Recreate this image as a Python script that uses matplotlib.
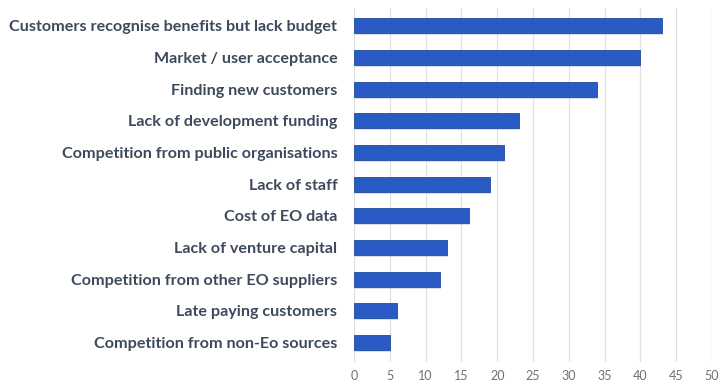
import matplotlib.pyplot as plt
from matplotlib.patches import Rectangle

# barriers to growth, listed top to bottom
barriers = [
    "Customers recognise benefits but lack budget",
    "Market / user acceptance",
    "Finding new customers",
    "Lack of development funding",
    "Competition from public organisations",
    "Lack of staff",
    "Cost of EO data",
    "Lack of venture capital",
    "Competition from other EO suppliers",
    "Late paying customers",
    "Competition from non-Eo sources",
]
counts = [43, 40, 34, 23, 21, 19, 16, 13, 12, 6, 5]
xticks = [0, 5, 10, 15, 20, 25, 30, 35, 40, 45, 50]

bar_color = "#2A5BC5"
label_color = "#3E4A5C"

fig = plt.figure(figsize=(7.19, 3.81), dpi=100)
ax = fig.add_axes([0.4923, 0.050, 0.4979, 0.929])

pos = list(range(len(barriers)))
height = 0.47

# soft drop shadow under each bar
for y, v in zip(pos, counts):
    ax.add_patch(Rectangle((0.15, y - height / 2 + 0.07), v, height,
                           color="#9aa3b5", alpha=0.35, lw=0, zorder=2))

ax.barh(pos, counts, height=height, color=bar_color,
        edgecolor="#1E4AA6", linewidth=0.6, zorder=3)

ax.set_xlim(0, 50)
ax.set_ylim(10.616, -0.562)
ax.set_xticks(xticks)
ax.set_yticks(pos)
ax.set_yticklabels(barriers, fontfamily="Lato", fontweight="bold",
                   fontsize=11.6, color=label_color)
ax.tick_params(axis="y", length=0, pad=12)
ax.tick_params(axis="x", length=0, pad=6, labelsize=9, labelcolor="#707070")
for lbl in ax.get_xticklabels():
    lbl.set_fontfamily("Lato")

ax.grid(axis="x", color="#E0E0E0", linewidth=0.9, zorder=0)
for side in ["top", "right", "bottom", "left"]:
    ax.spines[side].set_visible(False)

fig.savefig("out.png", dpi=100)
